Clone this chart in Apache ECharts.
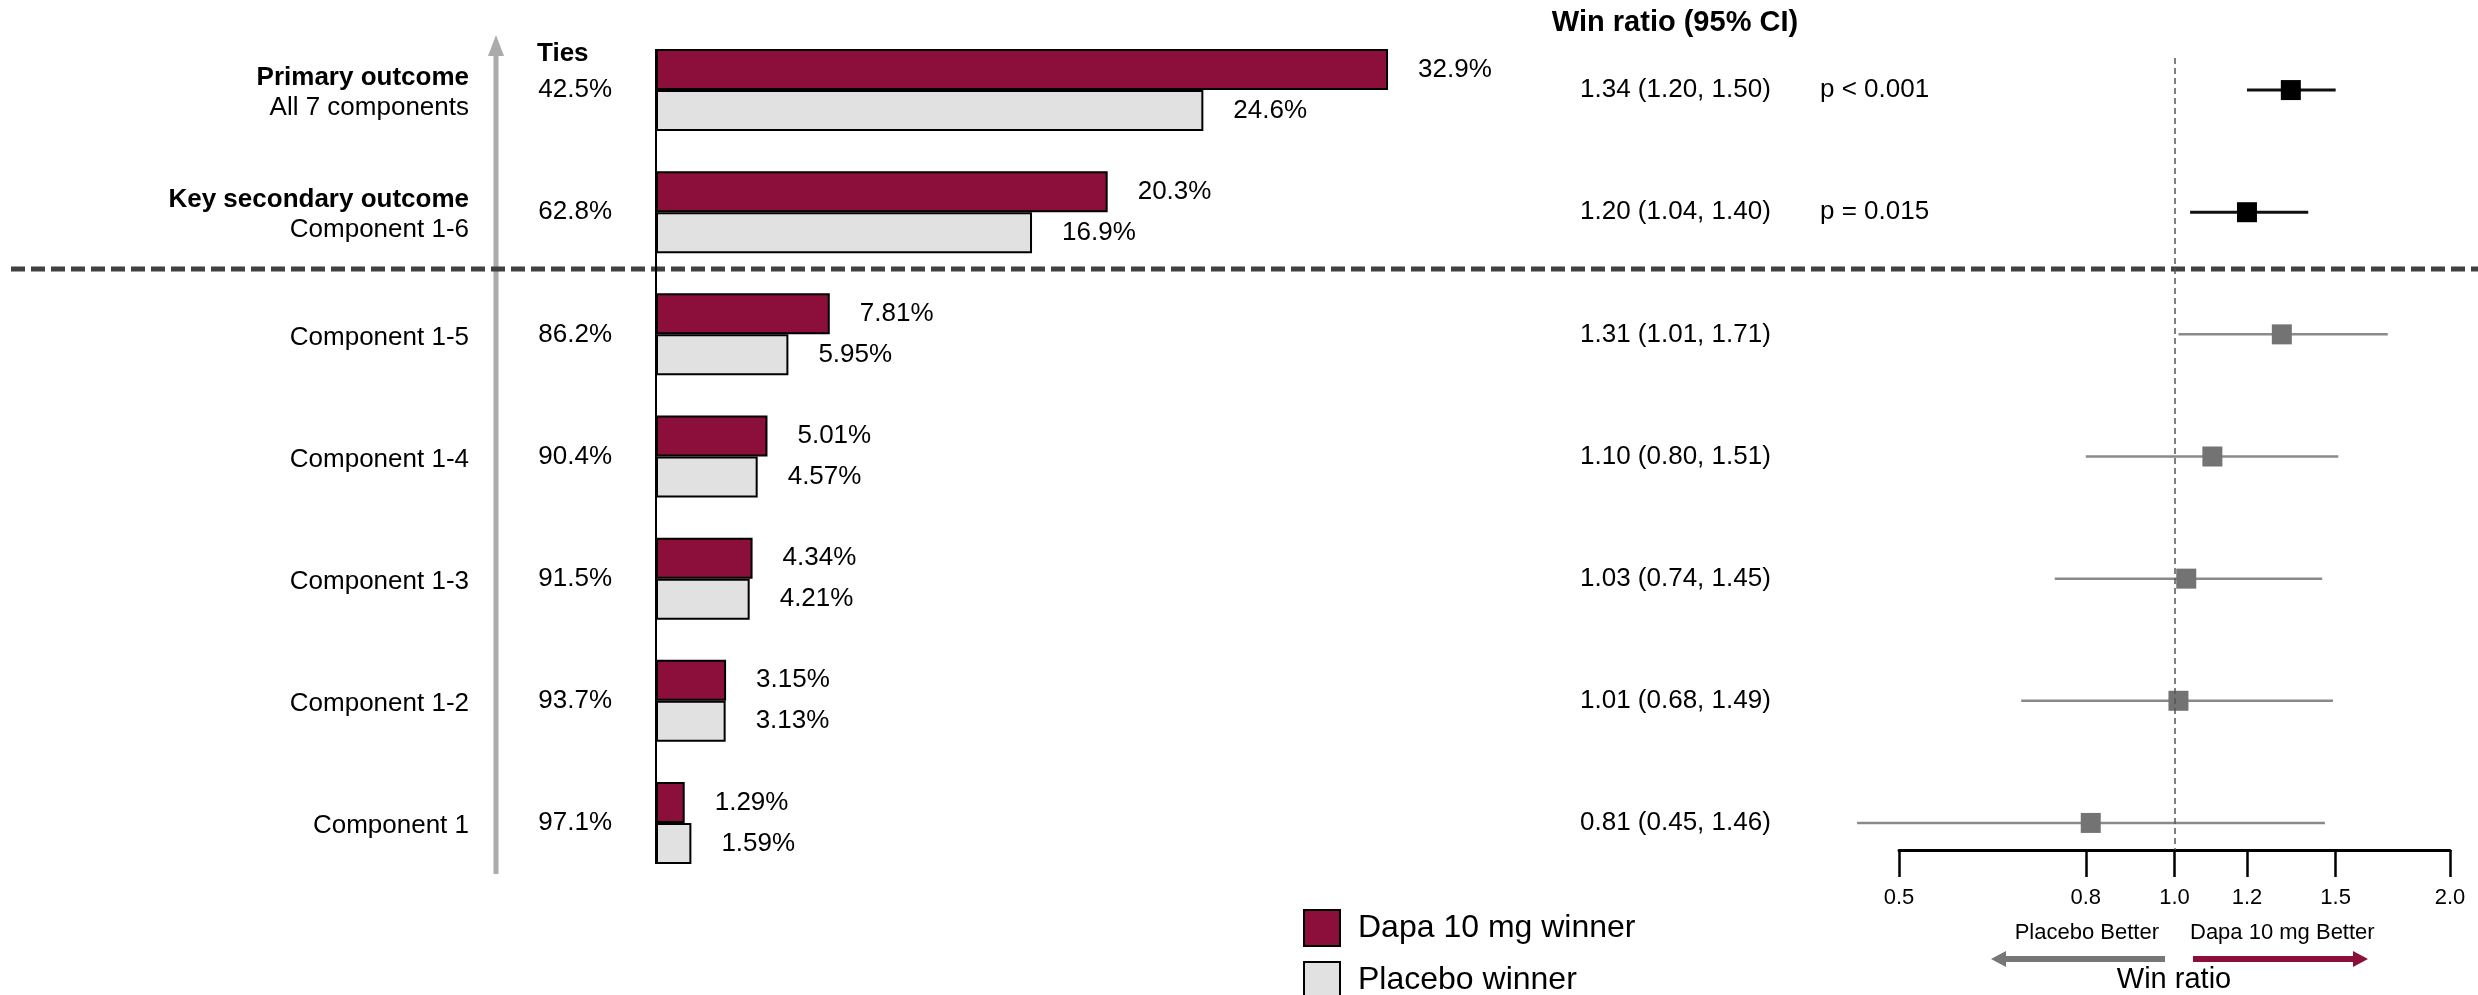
<!DOCTYPE html>
<html>
<head>
<meta charset="utf-8">
<script src="https://cdn.jsdelivr.net/npm/echarts@6/dist/echarts.min.js"></script>
<style>
  html, body { margin: 0; padding: 0; background: #fff; }
  #chart { width: 2478px; height: 995px; }
</style>
</head>
<body>
<div id="chart"></div>
<script>
// Outcomes, listed top to bottom
const outcomeHeaders = ['Primary outcome', 'Key secondary outcome', '', '', '', '', ''];
const outcomeNames = ['All 7 components', 'Component 1-6', 'Component 1-5', 'Component 1-4',
                      'Component 1-3', 'Component 1-2', 'Component 1'];

// Share of patient pairs (%): ties, Dapa 10 mg wins, placebo wins
const tiesPct = [42.5, 62.8, 86.2, 90.4, 91.5, 93.7, 97.1];
const dapaWinPct = [32.9, 20.3, 7.81, 5.01, 4.34, 3.15, 1.29];
const placeboWinPct = [24.6, 16.9, 5.95, 4.57, 4.21, 3.13, 1.59];

// Win ratio with 95% confidence interval
const winRatio = [1.34, 1.20, 1.31, 1.10, 1.03, 1.01, 0.81];
const ciLower = [1.20, 1.04, 1.01, 0.80, 0.74, 0.68, 0.45];
const ciUpper = [1.50, 1.40, 1.71, 1.51, 1.45, 1.49, 1.46];
const pValues = ['p < 0.001', 'p = 0.015', '', '', '', '', ''];
const winRatioTicks = [0.5, 0.8, 1.0, 1.2, 1.5, 2.0];

// Layout
const FONT = '"Liberation Sans", Arial, Helvetica, sans-serif';
const GRID_TOP = 29, GRID_H = 855;
const ROW_STEP = GRID_H / outcomeNames.length;
const ROW0 = GRID_TOP + ROW_STEP / 2;
const BAR_W = 41;
const FOREST_TOP = 58, FOREST_BOTTOM = 850;
const forestMin = (FOREST_TOP - ROW0) / ROW_STEP;
const forestMax = (FOREST_BOTTOM - ROW0) / ROW_STEP;
const rowIdx = outcomeNames.map((_, i) => i);
const TEXT_PAD = [6, 0, 0, 0]; // nudges row text slightly below the row centre line

const DAPA = '#8C0E3A', PLACEBO = '#E1E1E1';

const ciText = winRatio.map((w, i) =>
  w.toFixed(2) + ' (' + ciLower[i].toFixed(2) + ', ' + ciUpper[i].toFixed(2) + ')');
const forestData = winRatio.map((w, i) => [w, i, ciLower[i], ciUpper[i]]);

const chart = echarts.init(document.getElementById('chart'), null, { renderer: 'canvas' });

const forestYAxis = (margin, texts) => ({
  type: 'value', gridIndex: 1, position: 'left', inverse: true,
  min: forestMin, max: forestMax,
  axisLine: { show: false }, axisTick: { show: false }, splitLine: { show: false },
  axisLabel: {
    customValues: rowIdx, margin: margin, align: 'left', padding: TEXT_PAD,
    fontSize: 26, color: '#000', fontFamily: FONT,
    formatter: v => texts[Math.round(v)] || ''
  }
});

const barLabel = {
  show: true, position: 'right', distance: 30, fontSize: 26, color: '#000',
  fontFamily: FONT, padding: [4, 0, 0, 0], formatter: p => p.value + '%'
};

const option = {
  animation: false,
  backgroundColor: '#fff',
  textStyle: { fontFamily: FONT },
  grid: [
    { left: 656, top: GRID_TOP, width: 890, height: GRID_H },
    { left: 1899, top: FOREST_TOP, width: 551, height: FOREST_BOTTOM - FOREST_TOP }
  ],
  xAxis: [
    { type: 'value', gridIndex: 0, min: 0, max: 40, show: false },
    {
      type: 'log', logBase: 2, gridIndex: 1, min: 0.5, max: 2, position: 'bottom',
      axisLine: { onZero: false, lineStyle: { color: '#000', width: 3 } },
      axisTick: { customValues: winRatioTicks, length: 27, lineStyle: { color: '#000', width: 2.5 } },
      axisLabel: {
        customValues: winRatioTicks, margin: 37, fontSize: 22, color: '#000', fontFamily: FONT,
        formatter: v => Number(v).toFixed(1)
      },
      splitLine: { show: false }
    }
  ],
  yAxis: [
    {
      type: 'category', gridIndex: 0, inverse: true, data: outcomeNames, position: 'left',
      axisLine: { show: false },
      axisTick: { alignWithLabel: true, length: 28, lineStyle: { color: '#000', width: 2 } },
      axisLabel: {
        margin: 44, fontSize: 26, color: '#000', fontFamily: FONT, padding: TEXT_PAD,
        formatter: (v, i) => tiesPct[i] + '%'
      }
    },
    {
      type: 'category', gridIndex: 0, inverse: true, data: outcomeNames, position: 'left',
      axisLine: { show: false }, axisTick: { show: false },
      axisLabel: {
        margin: 187, align: 'right', fontFamily: FONT, padding: TEXT_PAD,
        formatter: (v, i) => outcomeHeaders[i] ? '{h|' + outcomeHeaders[i] + '}\n{n|' + v + '}' : '{n|' + v + '}',
        rich: {
          h: { fontSize: 26, fontWeight: 'bold', color: '#000', lineHeight: 30, fontFamily: FONT, align: 'right' },
          n: { fontSize: 26, color: '#000', lineHeight: 30, fontFamily: FONT, align: 'right' }
        }
      }
    },
    forestYAxis(319, ciText),
    forestYAxis(79, pValues)
  ],
  legend: {
    data: ['Dapa 10 mg winner', 'Placebo winner'],
    orient: 'vertical', left: 1303, top: 909, height: 140, padding: 0,
    itemWidth: 36, itemHeight: 36, itemGap: 14, icon: 'rect', selectedMode: false,
    textStyle: { fontSize: 32, color: '#000', fontFamily: FONT, padding: [0, 0, 0, 13] }
  },
  series: [
    {
      name: 'Dapa 10 mg winner', type: 'bar', xAxisIndex: 0, yAxisIndex: 0,
      data: dapaWinPct, barWidth: BAR_W, barGap: '0%',
      itemStyle: { color: DAPA, borderColor: '#000', borderWidth: 2 },
      label: barLabel
    },
    {
      name: 'Placebo winner', type: 'bar', xAxisIndex: 0, yAxisIndex: 0,
      data: placeboWinPct, barWidth: BAR_W, barGap: '0%',
      itemStyle: { color: PLACEBO, borderColor: '#000', borderWidth: 2 },
      label: barLabel
    },
    {
      // zero baseline of the win-share bars, spanning first to last bar pair
      type: 'custom', xAxisIndex: 0, yAxisIndex: 0, silent: true, clip: false,
      data: [[0, 0]], encode: { x: 0, y: 1 },
      renderItem: (params, api) => {
        const a = api.coord([0, 0]);
        const b = api.coord([0, outcomeNames.length - 1]);
        return {
          type: 'line',
          shape: { x1: a[0], y1: a[1] - BAR_W, x2: b[0], y2: b[1] + BAR_W },
          style: { stroke: '#000', lineWidth: 2 }
        };
      }
    },
    {
      // win ratio point estimates with confidence intervals
      type: 'custom', xAxisIndex: 1, yAxisIndex: 2, silent: true, clip: false,
      data: forestData, encode: { x: [0, 2, 3], y: 1 },
      renderItem: (params, api) => {
        const row = api.value(1);
        const pt = api.coord([api.value(0), row]);
        const lo = api.coord([api.value(2), row]);
        const hi = api.coord([api.value(3), row]);
        const main = row < 2;
        return {
          type: 'group',
          children: [
            { type: 'line', shape: { x1: lo[0], y1: lo[1], x2: hi[0], y2: hi[1] },
              style: { stroke: main ? '#111' : '#8a8a8a', lineWidth: main ? 3 : 2.5 } },
            { type: 'rect', shape: { x: pt[0] - 10, y: pt[1] - 10, width: 20, height: 20 },
              style: { fill: main ? '#000' : '#737373' } }
          ]
        };
      },
      markLine: {
        silent: true, symbol: 'none', label: { show: false },
        lineStyle: { type: [6, 4], color: '#555', width: 1.5 },
        data: [{ xAxis: 1 }]
      }
    }
  ],
  graphic: [
    // upward arrow beside the ties column
    { type: 'line', shape: { x1: 496, y1: 874, x2: 496, y2: 52 }, style: { stroke: '#ABABAB', lineWidth: 5 } },
    { type: 'polygon', shape: { points: [[496, 35], [488, 56], [504, 56]] }, style: { fill: '#ABABAB' } },
    // separator between composite outcomes and components
    { type: 'line', shape: { x1: 11, y1: 269, x2: 2478, y2: 269 },
      style: { stroke: '#404040', lineWidth: 5, lineDash: [14, 6] } },
    { type: 'text', x: 537, y: 54,
      style: { text: 'Ties', fill: '#000', font: 'bold 26px ' + FONT, align: 'left', verticalAlign: 'middle' } },
    { type: 'text', x: 1675, y: 23,
      style: { text: 'Win ratio (95% CI)', fill: '#000', font: 'bold 29px ' + FONT, align: 'center', verticalAlign: 'middle' } },
    // direction annotation under the win ratio axis
    { type: 'text', x: 2159, y: 933,
      style: { text: 'Placebo Better', fill: '#000', font: '22px ' + FONT, align: 'right', verticalAlign: 'middle' } },
    { type: 'text', x: 2190, y: 933,
      style: { text: 'Dapa 10 mg Better', fill: '#000', font: '22px ' + FONT, align: 'left', verticalAlign: 'middle' } },
    { type: 'line', shape: { x1: 2165, y1: 959, x2: 2004, y2: 959 }, style: { stroke: '#777', lineWidth: 6 } },
    { type: 'polygon', shape: { points: [[1991, 959], [2006, 951], [2006, 967]] }, style: { fill: '#777' } },
    { type: 'line', shape: { x1: 2193, y1: 959, x2: 2355, y2: 959 }, style: { stroke: DAPA, lineWidth: 6 } },
    { type: 'polygon', shape: { points: [[2368, 959], [2353, 951], [2353, 967]] }, style: { fill: DAPA } },
    { type: 'text', x: 2174, y: 980,
      style: { text: 'Win ratio', fill: '#000', font: '29px ' + FONT, align: 'center', verticalAlign: 'middle' } }
  ]
};

chart.setOption(option);
</script>
</body>
</html>
